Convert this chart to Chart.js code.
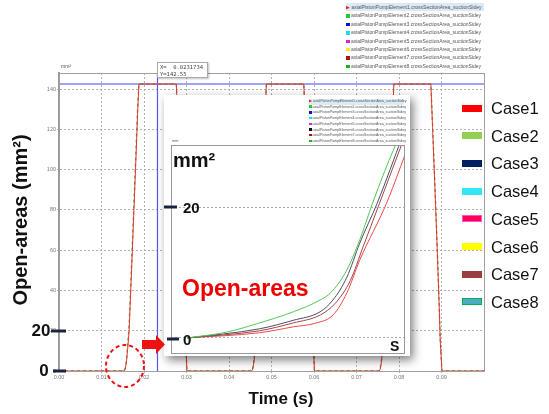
<!DOCTYPE html>
<html lang="en">
<head>
<meta charset="UTF-8">
<title>Open-areas</title>
<script src="https://cdn.jsdelivr.net/npm/chart.js@4.4.0/dist/chart.umd.min.js"></script>
<style>
  body { margin: 0; background: #fff; font-family: "Liberation Sans", Arial, sans-serif; }
  #page { position: relative; width: 549px; height: 414px; overflow: hidden; }
  #main { position: absolute; left: 0; top: 0; }
  .abs { position: absolute; white-space: nowrap; }
  .c { transform: translate(-50%, -50%); }
  .big { font-weight: bold; color: #111; }
  #inset { position: absolute; left: 164px; top: 95px; width: 246px; height: 261px; background: #fff;
           box-shadow: 3px 4px 9px rgba(0,0,0,0.5); }
  #insetCanvas { position: absolute; left: 0; top: 0; }
  .tiny { color: #555; }
  .tiny div { position: absolute; white-space: nowrap; }
  .mk { display: inline-block; vertical-align: middle; }
  .case { position: absolute; left: 462px; width: 20px; height: 7px; box-sizing: border-box; }
  .caseTxt { position: absolute; left: 491px; font-size: 16.5px; color: #111; transform: translateY(-50%); }
</style>
</head>
<body>
<div id="page">
  <canvas id="main" width="549" height="414"></canvas>

  <div id="mainLegend" class="tiny"></div>
  <div class="abs tiny" style="left:61px; top:63px; font-size:5px;">mm²</div>

  <div class="abs" style="left:157px; top:62px; width:51px; height:16px; border:1px solid #aaa; background:#fff;
       box-shadow:1px 1px 2px rgba(0,0,0,0.25); font-family:'DejaVu Sans Mono', monospace; font-size:5.5px; line-height:6.5px; color:#444; padding:1px 2px; box-sizing:border-box;">
    X=&nbsp; 0.0231734<br>Y=142.55
  </div>

  <div id="caseLegend"></div>

  <div id="inset">
    <canvas id="insetCanvas" width="246" height="261"></canvas>
    <div id="insetLegend" class="tiny"></div>
    <div class="abs tiny" style="left:8px; top:44px; font-size:3.5px;">mm²</div>
    <div class="abs big" style="left:9px; top:54px; font-size:20px;">mm²</div>
    <div class="abs big" style="left:19px; top:104px; font-size:15px;">20</div>
    <div class="abs big" style="left:19px; top:236px; font-size:15px;">0</div>
    <div class="abs big" style="left:226px; top:243px; font-size:14px;">S</div>
    <div class="abs" style="left:18px; top:180px; font-size:23px; font-weight:bold; color:#ee0000;">Open-areas</div>
  </div>

  <svg class="abs" style="left:0; top:0;" width="549" height="414">
    <line x1="51" y1="331" x2="66" y2="331" stroke="#1a2440" stroke-width="3"/>
    <line x1="53" y1="371" x2="66" y2="371" stroke="#1a2440" stroke-width="3"/>
    <line x1="164" y1="207" x2="177" y2="207" stroke="#1a2440" stroke-width="3"/>
    <line x1="167" y1="339" x2="179" y2="339" stroke="#1a2440" stroke-width="3"/>
    <polygon points="142,340 156,340 156,335 165,344.5 156,354 156,349 142,349" fill="#ee1111"/>
    <ellipse cx="125" cy="366" rx="19" ry="21" fill="none" stroke="#ee1111" stroke-width="2" stroke-dasharray="4 3"/>
  </svg>

  <div class="abs big c" style="left:44px; top:371px; font-size:17px;">0</div>
  <div class="abs big c" style="left:41px; top:331px; font-size:17px;">20</div>
  <div class="abs big c" style="left:20px; top:220px; font-size:20px; transform:translate(-50%,-50%) rotate(-90deg);">Open-areas (mm²)</div>
  <div class="abs big c" style="left:281px; top:399px; font-size:17px;">Time (s)</div>
</div>

<script>
// ---- main plot: time (s) vs open area (mm2), three suction pulses ----
const timeCase1 = [0, 0.0153, 0.0156, 0.0159, 0.0162, 0.0165, 0.0170, 0.0175, 0.0180, 0.0185, 0.0188, 0.0276, 0.0280, 0.0285, 0.0290, 0.0295, 0.0298, 0.0301,
  0.0453, 0.0456, 0.0459, 0.0462, 0.0465, 0.0470, 0.0475, 0.0480, 0.0485, 0.0488, 0.0576, 0.0580, 0.0585, 0.0590, 0.0595, 0.0598, 0.0601,
  0.0753, 0.0756, 0.0759, 0.0762, 0.0765, 0.0770, 0.0775, 0.0780, 0.0785, 0.0788, 0.0875, 0.0879, 0.0884, 0.0889, 0.0894, 0.0897, 0.0901, 0.1]
const areaCase1 = [0, 0, 1, 5, 12, 20, 46, 73, 100, 128, 142.5, 142.5, 121, 94, 66, 36, 15, 0,
  0, 1, 5, 12, 20, 46, 73, 100, 128, 142.5, 142.5, 121, 94, 66, 36, 15, 0,
  0, 1, 5, 12, 20, 46, 73, 100, 128, 142.5, 142.5, 121, 94, 66, 36, 15, 0, 0]
const areaCase2 = [0, 0, 1.5, 6, 14, 23, 49, 76, 103, 131, 142.5, 142.5, 122, 95, 67, 37, 16, 0,
  0, 1.5, 6, 14, 23, 49, 76, 103, 131, 142.5, 142.5, 122, 95, 67, 37, 16, 0,
  0, 1.5, 6, 14, 23, 49, 76, 103, 131, 142.5, 142.5, 122, 95, 67, 37, 16, 0, 0]

// cursor read-out
const cursorX = 0.0231734
const cursorY = 142.55

// ---- inset: zoom on the opening of the first pulse ----
const insetTimeGreen = [0.01514, 0.01548, 0.01576, 0.01605, 0.01628, 0.01637, 0.01651, 0.01662, 0.01673, 0.01692, 0.01697]
const insetAreaGreen = [0, 0.9, 2.3, 4.0, 5.8, 6.9, 10.4, 15.0, 20.6, 29.2, 31]
const insetTimeNavy = [0.01514, 0.01576, 0.01605, 0.01628, 0.01639, 0.01651, 0.01662, 0.01677, 0.01699]
const insetAreaNavy = [0, 1.4, 2.7, 4.0, 5.8, 9.3, 14.5, 20.6, 31]
const insetTimeBrown = [0.01514, 0.01576, 0.01605, 0.01628, 0.01641, 0.01654, 0.01665, 0.01679, 0.01701]
const insetAreaBrown = [0, 1.1, 2.3, 3.5, 5.3, 8.8, 14.0, 20.6, 31]
const insetTimeRed = [0.01514, 0.01576, 0.01605, 0.01625, 0.01639, 0.01651, 0.01662, 0.01685, 0.01705]
const insetAreaRed = [0, 0.8, 1.7, 2.3, 3.5, 6.9, 11.9, 20.6, 30]

const caseNames = ['Case1', 'Case2', 'Case3', 'Case4', 'Case5', 'Case6', 'Case7', 'Case8']
const seriesNames = [1, 2, 3, 4, 5, 6, 7, 8].map(n => 'axialPistonPumpElement' + n + '.crossSectionArea_suctionSidey')
const xTicks = [0, 0.01, 0.02, 0.03, 0.04, 0.05, 0.06, 0.07, 0.08, 0.09]
const yTicks = [0, 20, 40, 60, 80, 100, 120, 140]

const caseColors = ['#ff0000', '#92d050', '#002060', '#33e6f2', '#ff0055', '#ffff00', '#9a3f3f', '#4bacc6']
const caseBorders = ['#ff0000', '#92d050', '#002060', '#33e6f2', '#ff55cc', '#ffff00', '#9a3f3f', '#00b050']
const mainMarks = ['#ee2222', '#22cc22', '#1111cc', '#22dddd', '#dd22dd', '#eeee22', '#aa1111', '#22aa22']
const insetMarks = ['#ee2222', '#22cc22', '#1111cc', '#22dddd', '#dd22dd', '#111111', '#aa1111', '#22aa22']

const pts = (xs, ys) => xs.map((x, i) => ({ x: x, y: ys[i] }))

// frame around the plotting area
const frame = {
  id: 'frame',
  afterDraw(chart, args, opts) {
    const a = chart.chartArea, c = chart.ctx
    c.save()
    c.strokeStyle = opts.color || '#999'
    c.lineWidth = 1
    c.strokeRect(Math.round(a.left) + 0.5, Math.round(a.top) + 0.5, Math.round(a.right - a.left), Math.round(a.bottom - a.top))
    c.restore()
  }
}

new Chart(document.getElementById('main'), {
  type: 'line',
  data: {
    datasets: [
      { label: 'cursor x', data: [{ x: cursorX, y: 0 }, { x: cursorX, y: 148 }], borderColor: '#5656ee', borderWidth: 1.2, pointRadius: 0, order: 5 },
      { label: 'cursor y', data: [{ x: 0, y: cursorY }, { x: 0.1, y: cursorY }], borderColor: '#8484f0', borderWidth: 1.6, pointRadius: 0, order: 4 },
      { label: seriesNames[1], data: pts(timeCase1, areaCase2), borderColor: '#3cb43c', borderWidth: 1.3, borderDash: [3, 3], pointRadius: 0, order: 2 },
      { label: seriesNames[0], data: pts(timeCase1, areaCase1), borderColor: '#ee3030', borderWidth: 1, pointRadius: 0, order: 1 }
    ]
  },
  options: {
    responsive: false,
    animation: false,
    layout: { padding: { top: 73, right: 65, left: 0, bottom: 0 } },
    plugins: { legend: { display: false }, tooltip: { enabled: false }, frame: { color: '#a0a0a0' } },
    scales: {
      x: {
        type: 'linear', min: 0, max: 0.1,
        afterFit: s => { s.height = 43 },
        afterBuildTicks: s => { s.ticks = xTicks.map(v => ({ value: v })) },
        ticks: { callback: v => v.toFixed(2), font: { size: 5.5 }, color: '#777', padding: 1, maxRotation: 0, autoSkip: false },
        grid: { color: c => c.tick && c.tick.value === 0 ? 'rgba(0,0,0,0)' : '#b0b0b0', tickLength: 2 },
        border: { color: '#888', width: 1, dash: [2, 2] }
      },
      y: {
        min: 0, max: 148,
        afterFit: s => { s.width = 59 },
        afterBuildTicks: s => { s.ticks = yTicks.map(v => ({ value: v })) },
        ticks: { font: { size: 5.5 }, color: '#777', padding: 1 },
        grid: { color: c => c.tick && c.tick.value === 0 ? 'rgba(0,0,0,0)' : '#b0b0b0', tickLength: 2 },
        border: { color: '#999', width: 2, dash: [2, 2] }
      }
    }
  },
  plugins: [frame]
})

new Chart(document.getElementById('insetCanvas'), {
  type: 'line',
  data: {
    datasets: [
      { label: seriesNames[1], data: pts(insetTimeGreen, insetAreaGreen), borderColor: '#55c855' },
      { label: seriesNames[2], data: pts(insetTimeNavy, insetAreaNavy), borderColor: '#4c4c66' },
      { label: seriesNames[6], data: pts(insetTimeBrown, insetAreaBrown), borderColor: '#a04646' },
      { label: seriesNames[0], data: pts(insetTimeRed, insetAreaRed), borderColor: '#f04848' }
    ].map(d => Object.assign(d, { borderWidth: 1, pointRadius: 0, cubicInterpolationMode: 'monotone' }))
  },
  options: {
    responsive: false,
    animation: false,
    layout: { padding: { top: 50, right: 6, left: 0, bottom: 3 } },
    plugins: { legend: { display: false }, tooltip: { enabled: false }, frame: { color: '#999' } },
    scales: {
      x: { type: 'linear', min: 0.0150, max: 0.0170, display: false },
      y: {
        min: -2.3, max: 29.5,
        afterFit: s => { s.width = 7 },
        afterBuildTicks: s => { s.ticks = [{ value: 0 }, { value: 20 }] },
        ticks: { display: false },
        grid: { color: '#aaa', drawTicks: false },
        border: { display: false, dash: [2, 2] }
      }
    }
  },
  plugins: [frame]
})

// legends (software legend lists, and the Case legend)
function tinyLegend(el, names, marks, x, y0, dy, size, hiWidth) {
  names.forEach((n, i) => {
    const row = document.createElement('div')
    row.style.left = x + 'px'
    row.style.top = (y0 + i * dy) + 'px'
    row.style.fontSize = size + 'px'
    row.style.lineHeight = dy + 'px'
    if (i === 0) { row.style.background = '#dce9f6'; row.style.width = hiWidth + 'px' }
    const m = i === 0 ? '<span style="color:' + marks[i] + '">&#9654;</span> '
      : '<span class="mk" style="width:' + (size * 0.7) + 'px;height:' + (size * 0.7) + 'px;background:' + marks[i] + '"></span> '
    row.innerHTML = m + n
    el.appendChild(row)
  })
}
tinyLegend(document.getElementById('mainLegend'), seriesNames, mainMarks, 346, 3, 8.4, 5, 138)
tinyLegend(document.getElementById('insetLegend'), seriesNames, insetMarks, 145, 4, 5.7, 3.6, 95)

const caseBox = document.getElementById('caseLegend')
caseNames.forEach((n, i) => {
  const yc = 108 + i * 27.7
  const bar = document.createElement('div')
  bar.className = 'case'
  bar.style.top = (yc - 3.5) + 'px'
  bar.style.background = caseColors[i]
  bar.style.border = '1.5px solid ' + caseBorders[i]
  caseBox.appendChild(bar)
  const t = document.createElement('div')
  t.className = 'caseTxt'
  t.style.top = yc + 'px'
  t.textContent = n
  caseBox.appendChild(t)
})
</script>
</body>
</html>
